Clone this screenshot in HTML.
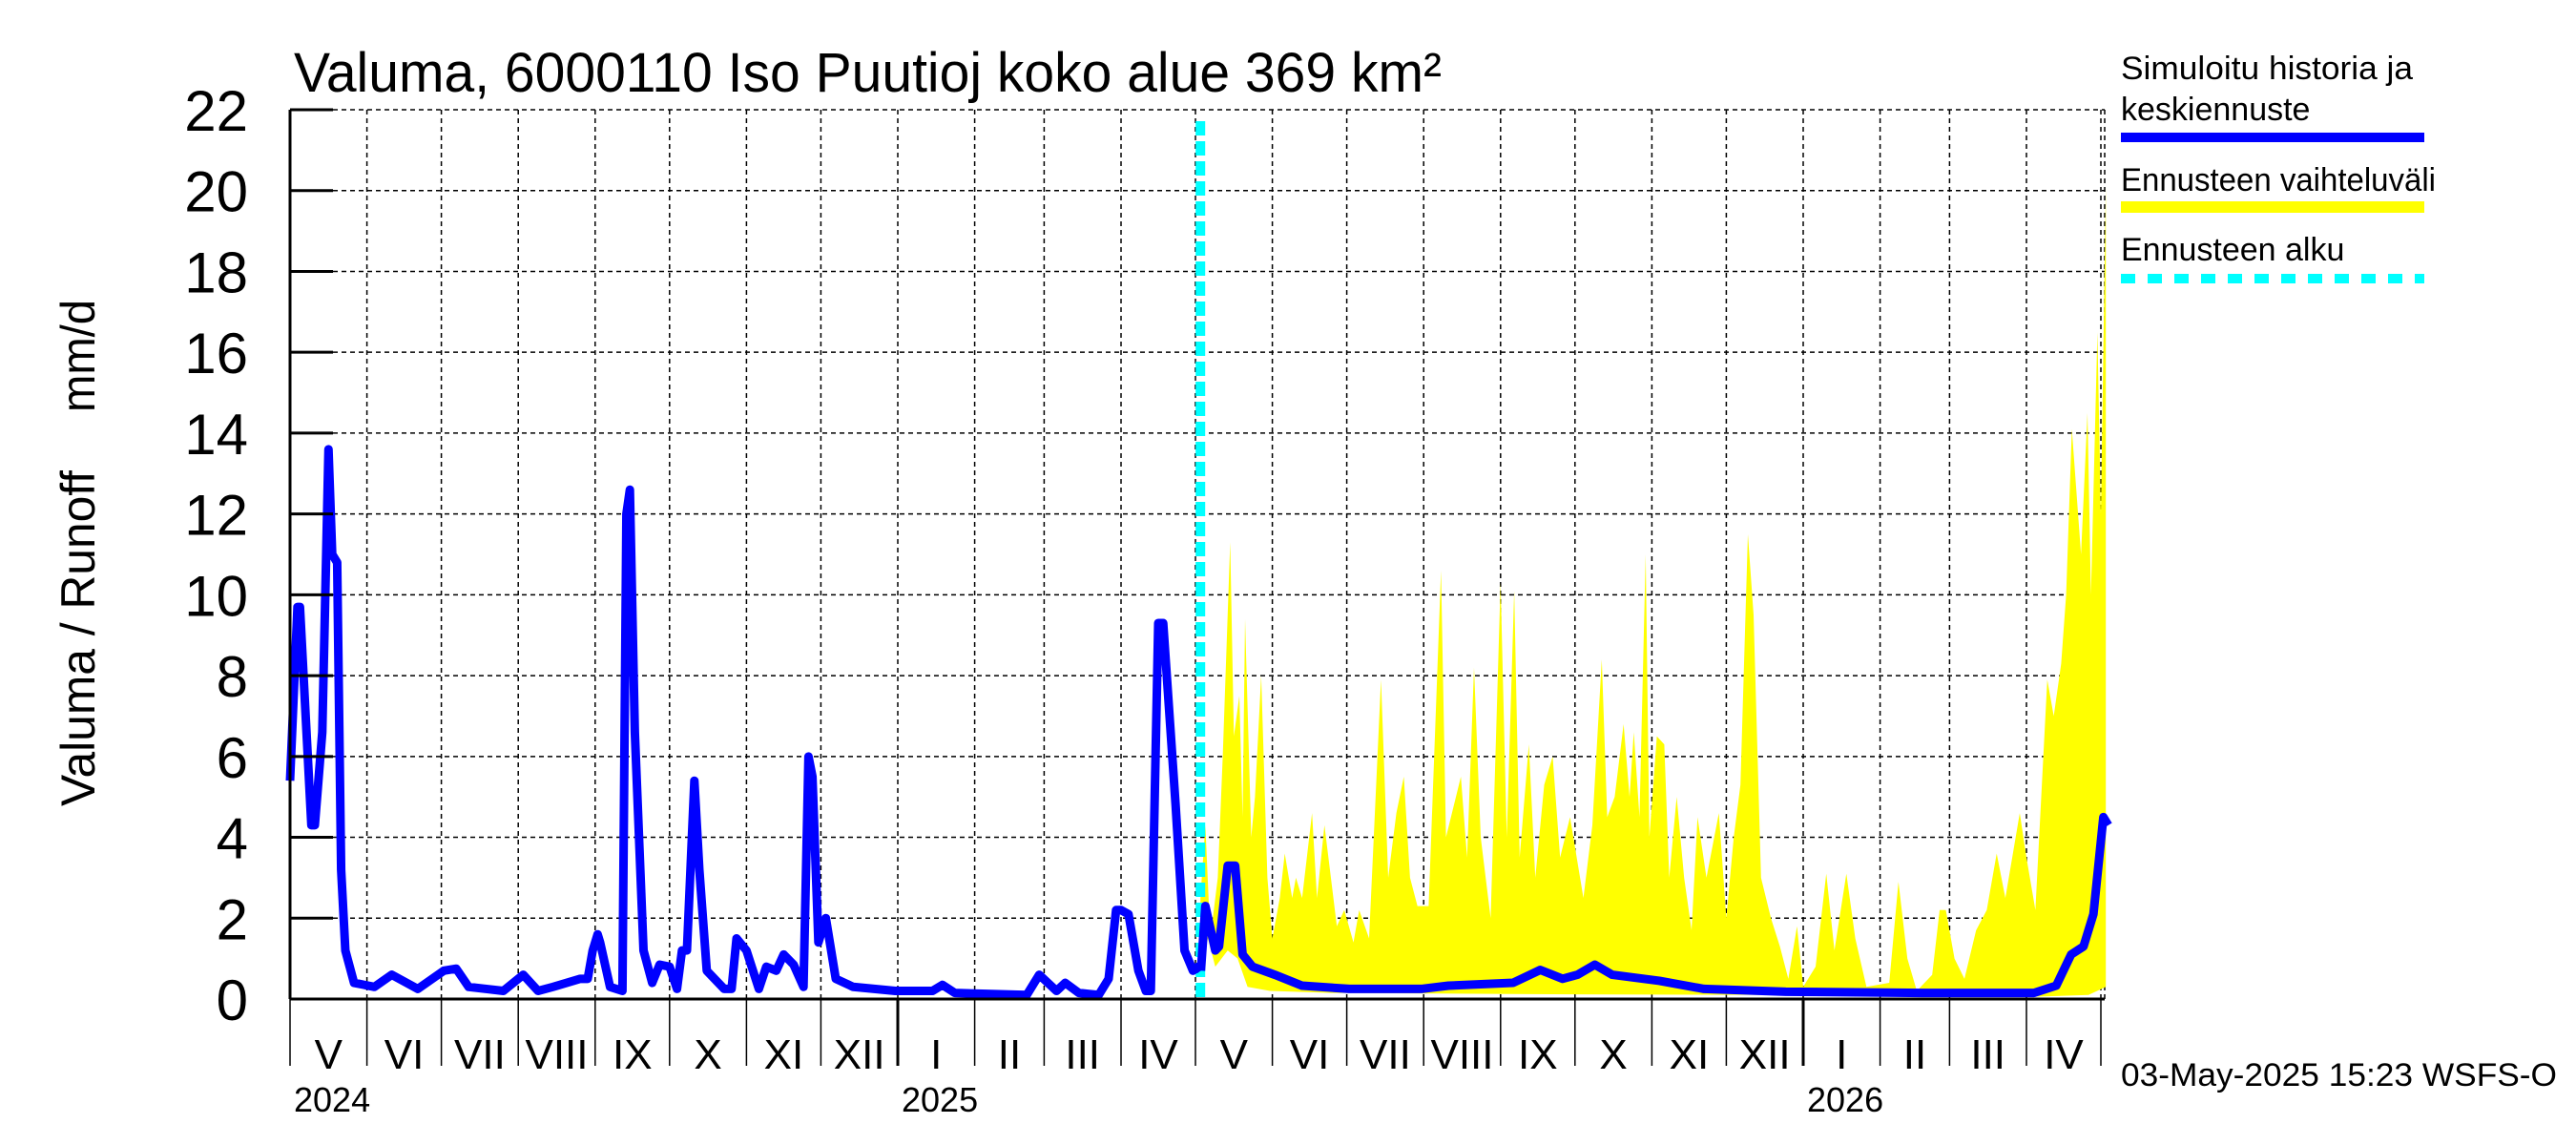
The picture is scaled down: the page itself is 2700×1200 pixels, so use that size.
<!DOCTYPE html>
<html><head><meta charset="utf-8"><style>
html,body{margin:0;padding:0;background:#fff;}
svg{display:block;font-family:"Liberation Sans",sans-serif;}
</style></head><body>
<svg id="chart" width="2700" height="1200" viewBox="0 0 2700 1200" xmlns="http://www.w3.org/2000/svg">
<text x="308" y="96" font-size="58" textLength="1203" lengthAdjust="spacingAndGlyphs">Valuma, 6000110 Iso Puutioj koko alue 369 km²</text>
<g id="grid"></g>
<g id="band"></g>
<g id="lines"></g>
<g id="axes"></g>
<text transform="translate(99,669) rotate(-90)" font-size="50" text-anchor="middle" textLength="352" lengthAdjust="spacingAndGlyphs">Valuma / Runoff</text>
<text transform="translate(99,373) rotate(-90)" font-size="50" text-anchor="middle" textLength="118" lengthAdjust="spacingAndGlyphs">mm/d</text>
<g font-size="34">
<text x="2223" y="83" textLength="306" lengthAdjust="spacingAndGlyphs">Simuloitu historia ja</text>
<text x="2223" y="126">keskiennuste</text>
<rect x="2223" y="139" width="318" height="10" fill="#0000ff"/>
<text x="2223" y="200" textLength="330" lengthAdjust="spacingAndGlyphs">Ennusteen vaihteluväli</text>
<rect x="2223" y="211" width="318" height="12" fill="#ffff00"/>
<text x="2223" y="273">Ennusteen alku</text>
<line x1="2223" y1="292" x2="2541" y2="292" stroke="#00ffff" stroke-width="10" stroke-dasharray="15 13"/>
</g>
<text x="2223" y="1138" font-size="34" textLength="457" lengthAdjust="spacingAndGlyphs">03-May-2025 15:23 WSFS-O</text>
</svg>
<script>
const yTicks=[0,2,4,6,8,10,12,14,16,18,20,22];
const monthLabels=["V","VI","VII","VIII","IX","X","XI","XII","I","II","III","IV","V","VI","VII","VIII","IX","X","XI","XII","I","II","III","IV"];
const monthStartDays=[0,31,61,92,123,153,184,214,245,276,304,335,365,396,426,457,488,518,549,579,610,641,669,700,730];
const yearLabels=["2024","2025","2026"];
const yearStartDays=[0,245,610];
const forecastStartDay=367;
const histDays=[0,3,4,8.6,10,13,15.5,17,19,20.6,22.3,25.8,34,41,51.5,62,67,72,86,94,100,106,117,120,122,124,125,129,134,135.6,137,139,142.5,146,149,153,156,158,160,163,165,168,175,178,180,184,189,192,196,199,203,207,209,210.6,213,216,220,227,244,259,263,268,297,302,309,312.5,318,326,330,333,335,338,342,345,347,350,352,357,360.6,364,366,367.2];
const histValues=[5.4,9.7,9.7,4.3,4.3,6.6,13.6,11,10.8,3.2,1.2,0.4,0.3,0.6,0.25,0.7,0.75,0.3,0.2,0.6,0.2,0.3,0.5,0.5,1.2,1.6,1.4,0.3,0.2,12,12.6,6.6,1.2,0.4,0.85,0.8,0.25,1.2,1.2,5.4,3.2,0.7,0.25,0.25,1.5,1.2,0.25,0.8,0.7,1.1,0.85,0.3,6,5.5,1.4,2,0.5,0.3,0.2,0.2,0.35,0.15,0.1,0.6,0.2,0.4,0.15,0.1,0.5,2.2,2.2,2.1,0.7,0.2,0.2,9.3,9.3,4.8,1.2,0.7,0.8,0.7];
const fcDays=[367.2,369,373,374.5,378,381,384,388,397,408,427,456,467,493,504,513,519,526,533,552,570,603,658,703,712,718,723,727,731,733];
const fcValues=[0.7,2.3,1.2,1.3,3.3,3.3,1.1,0.8,0.6,0.33,0.25,0.25,0.33,0.4,0.72,0.5,0.6,0.85,0.6,0.45,0.25,0.18,0.15,0.15,0.33,1.1,1.3,2.1,4.5,4.3];
const upperDays=[367,369,371,374,376,379,380.5,382.7,384,385,387.5,389,391.5,394,396,399,401,404,405.5,408,412,414,417,422,425,428.7,431,435,439.8,442.7,446,449,451.5,454.5,459,464,466,472,474.5,477.3,480,484,488,490.5,493.5,495.7,499.4,502,505.6,509,512,516,521.4,525,528.8,531,534,537.6,540,541.7,544,546.5,548,551,554,556,559,562,565,567.4,571,576,579,582,584.7,587.7,590,593,597,600.6,604,607.5,610,615,619.3,622.6,627.4,631,635.5,644.7,648.4,652,655.8,662,665,667.5,671,675,679.7,684,688,691.5,697.3,700,703.6,708.4,711,714,716,718.3,722,724.6,726,728.6,730,732];
const upperValues=[2.5,4.3,1.5,3,6,11.3,6.5,7.5,4.5,9.4,4,5,8,3,1.5,2.5,3.6,2.5,3,2.5,4.6,2.5,4.3,1.8,2.2,1.4,2.2,1.5,7.9,3,4.6,5.5,3,2.3,2.3,10.6,4,5.5,3.5,8.2,4,2,10.3,4,10.1,3.5,6.3,3,5.3,6,3.5,4.5,2.5,4.3,8.4,4.5,5,6.8,5,6.6,4.5,11,4,6.5,6.3,3,5,3,1.7,4.5,3,4.6,2,4,5.3,11.5,9.5,3,2,1.3,0.5,1.8,0.3,0.8,3.1,1.2,3.1,1.5,0.3,0.4,2.9,1,0.2,0.6,2.2,2.2,1,0.5,1.7,2.2,3.6,2.5,4.6,3.5,2.2,7.9,7,8.3,10,14.1,11,14.5,10,16.5,12,20.1];
const lowerDays=[367,370,373,378,382,386,395,420,500,600,700,725,732];
const lowerValues=[0.7,1.5,0.8,1.2,1.0,0.3,0.2,0.15,0.12,0.1,0.05,0.1,0.3];

const X0=304,PXD=2.6,Y0=1047,YTOP=115,XR=2206;
const xs=d=>X0+d*PXD;
const ys=v=>Y0-v*(Y0-YTOP)/22;
const NS="http://www.w3.org/2000/svg";
function mk(tag,parent,attrs){const e=document.createElementNS(NS,tag);for(const k in attrs)e.setAttribute(k,attrs[k]);parent.appendChild(e);return e;}
const grid=document.getElementById('grid'),axes=document.getElementById('axes'),band=document.getElementById('band'),lines=document.getElementById('lines');

yTicks.forEach(v=>{
  if(v>0){const g=mk('line',grid,{x1:X0,x2:XR,y1:ys(v),y2:ys(v),stroke:'#000','stroke-width':1.5,'stroke-dasharray':'5 4'});
  
  
  const t=mk('line',axes,{x1:X0,x2:X0+45,y1:ys(v),y2:ys(v),stroke:'#000','stroke-width':3});
  
  }
  const l=mk('text',axes,{x:260,y:ys(v)+22,'font-size':60,'text-anchor':'end'});
  l.textContent=v;
  
  
});
monthStartDays.forEach((d,i)=>{
  const x=xs(d);
  if(i>0){const g=mk('line',grid,{x1:x,x2:x,y1:YTOP,y2:Y0,stroke:'#000','stroke-width':1.5,'stroke-dasharray':'5 4'});
  
  }
  const isYear=yearStartDays.includes(d)&&d>0;
  const t=mk('line',axes,{x1:x,x2:x,y1:Y0,y2:1117,stroke:'#000','stroke-width':isYear?3:1.5});
  
  
  if(i<monthLabels.length){
    const l=mk('text',axes,{x:(x+xs(monthStartDays[i+1]))/2,y:1120,'font-size':44,'text-anchor':'middle'});
    l.textContent=monthLabels[i];
    
    
  }
});
const rg=mk('line',grid,{x1:XR,x2:XR,y1:YTOP,y2:Y0,stroke:'#000','stroke-width':1.5,'stroke-dasharray':'5 4'});


yearLabels.forEach((y,i)=>{
  const l=mk('text',axes,{x:xs(yearStartDays[i])+4,y:1165,'font-size':36});
  l.textContent=y;
  
  
});
let p=upperDays.map((d,i)=>xs(d)+','+ys(upperValues[i]));
for(let i=lowerDays.length-1;i>=0;i--)p.push(xs(lowerDays[i])+','+ys(lowerValues[i]));
const poly=mk('polygon',band,{points:p.join(' '),fill:'#ffff00'});


const fs=mk('line',lines,{x1:xs(forecastStartDay),x2:xs(forecastStartDay),y1:YTOP+12,y2:Y0,stroke:'#00ffff','stroke-width':10,'stroke-dasharray':'15 6'});


const h=mk('polyline',lines,{points:histDays.map((d,i)=>xs(d)+','+ys(histValues[i])).join(' '),fill:'none',stroke:'#0000ff','stroke-width':9,'stroke-linejoin':'round'});


const f=mk('polyline',lines,{points:fcDays.map((d,i)=>xs(d)+','+ys(fcValues[i])).join(' '),fill:'none',stroke:'#0000ff','stroke-width':9,'stroke-linejoin':'round'});


const ax=mk('line',axes,{x1:X0,x2:X0,y1:YTOP,y2:Y0,stroke:'#000','stroke-width':3});


const bx=mk('line',axes,{x1:X0,x2:XR,y1:Y0,y2:Y0,stroke:'#000','stroke-width':3});


</script>
</body></html>
